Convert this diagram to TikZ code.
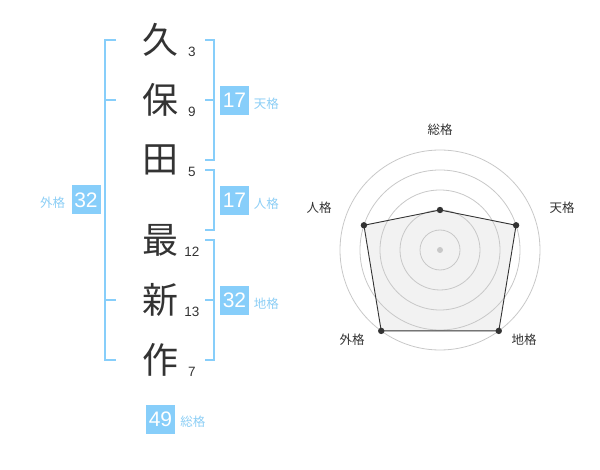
\documentclass[tikz,border=0pt]{standalone}
\usepackage{fontspec}
\setmainfont{Liberation Sans}
\newfontfamily\jp{Noto Sans CJK JP}
\usetikzlibrary{positioning}
\definecolor{bleuKaku}{RGB}{135,206,250}
\definecolor{bleuTexte}{RGB}{140,206,245}
\definecolor{encre}{RGB}{51,51,51}
\definecolor{grille}{RGB}{200,200,200}
\definecolor{fond}{RGB}{242,242,242}

\begin{document}
\begin{tikzpicture}[x=1pt,y=-1pt, every node/.style={inner sep=0pt},
  kanji/.style={font=\jp\fontsize{36}{36}\selectfont, text=encre},
  traits/.style={font=\fontsize{13.5}{14}\selectfont, text=encre},
  boite/.style={fill=bleuKaku, text=white, minimum width=29pt, minimum height=29pt, font=\fontsize{21}{21}\selectfont},
  etiq/.style={font=\jp\fontsize{12.5}{13}\selectfont, text=bleuTexte},
  radarEtiq/.style={font=\jp\fontsize{12.5}{13}\selectfont, text=encre},
  crochet/.style={draw=bleuKaku, line width=2pt},
  sommet/.style={fill=encre}]
\useasboundingbox (0,0) rectangle (600,470);
%
% Nom :
\node[kanji] (k1) at (160,40) {久};
\node[kanji] (k2) at (160,100) {保};
\node[kanji] (k3) at (160,160) {田};
\node[kanji] (k4) at (160,240) {最};
\node[kanji] (k5) at (160,300) {新};
\node[kanji] (k6) at (160,360) {作};
\node[traits] (t1) at (192,52) {3};
\node[traits] (t2) at (192,112) {9};
\node[traits] (t3) at (192,172) {5};
\node[traits] (t4) at (192,252) {12};
\node[traits] (t5) at (192,312) {13};
\node[traits] (t6) at (192,372) {7};
%
% Crochets :
\draw[crochet] (116,40) -- (105,40) -- (105,360) -- (116,360);
\draw[crochet] (105,100) -- (116,100);
\draw[crochet] (105,300) -- (116,300);
\draw[crochet] (205,40) -- (214,40) -- (214,160) -- (205,160);
\draw[crochet] (205,100) -- (214,100);
\draw[crochet] (205,170) -- (214,170) -- (214,230) -- (205,230);
\draw[crochet] (205,240) -- (214,240) -- (214,360) -- (205,360);
\draw[crochet] (205,300) -- (214,300);
%
% Etiquettes :
\node[boite] (ten) at (234.5,100.5) {17};
\node[etiq, right=4.5pt of ten, yshift=-3pt] {天格};
\node[boite] (jin) at (234.5,200.5) {17};
\node[etiq, right=4.5pt of jin, yshift=-3pt] {人格};
\node[boite] (chi) at (234.5,300.5) {32};
\node[etiq, right=4.5pt of chi, yshift=-3pt] {地格};
\node[boite] (gai) at (86,200) {32};
\node[etiq, left=6pt of gai, yshift=-3pt] {外格};
\node[boite] (sou) at (160.5,419) {49};
\node[etiq, right=5pt of sou, yshift=-3pt] {総格};
%
% Radar :
\begin{scope}[shift={(440,250)}, yscale=-1]
  \coordinate (pSou) at (90:40);
  \coordinate (pTen) at (18:80);
  \coordinate (pChi) at (-54:100);
  \coordinate (pGai) at (234:100);
  \coordinate (pJin) at (162:80);
  \fill[fond] (pSou) -- (pTen) -- (pChi) -- (pGai) -- (pJin) -- cycle;
  \foreach \r in {20,40,60,80,100} \draw[grille, line width=0.8pt] (0,0) circle (\r);
  \fill[grille] (0,0) circle (3);
  \draw[encre, line width=0.9pt] (pSou) -- (pTen) -- (pChi) -- (pGai) -- (pJin) -- cycle;
  \fill[sommet] (pSou) circle (3.2);
  \fill[sommet] (pTen) circle (3.2);
  \fill[sommet] (pChi) circle (3.2);
  \fill[sommet] (pGai) circle (3.2);
  \fill[sommet] (pJin) circle (3.2);
  \node[radarEtiq] (lSou) at (0,120) {総格};
  \node[radarEtiq] (lTen) at (122,42) {天格};
  \node[radarEtiq] (lChi) at (84,-90) {地格};
  \node[radarEtiq] (lGai) at (-88,-90) {外格};
  \node[radarEtiq] (lJin) at (-121,42) {人格};
\end{scope}
\end{tikzpicture}
\end{document}
